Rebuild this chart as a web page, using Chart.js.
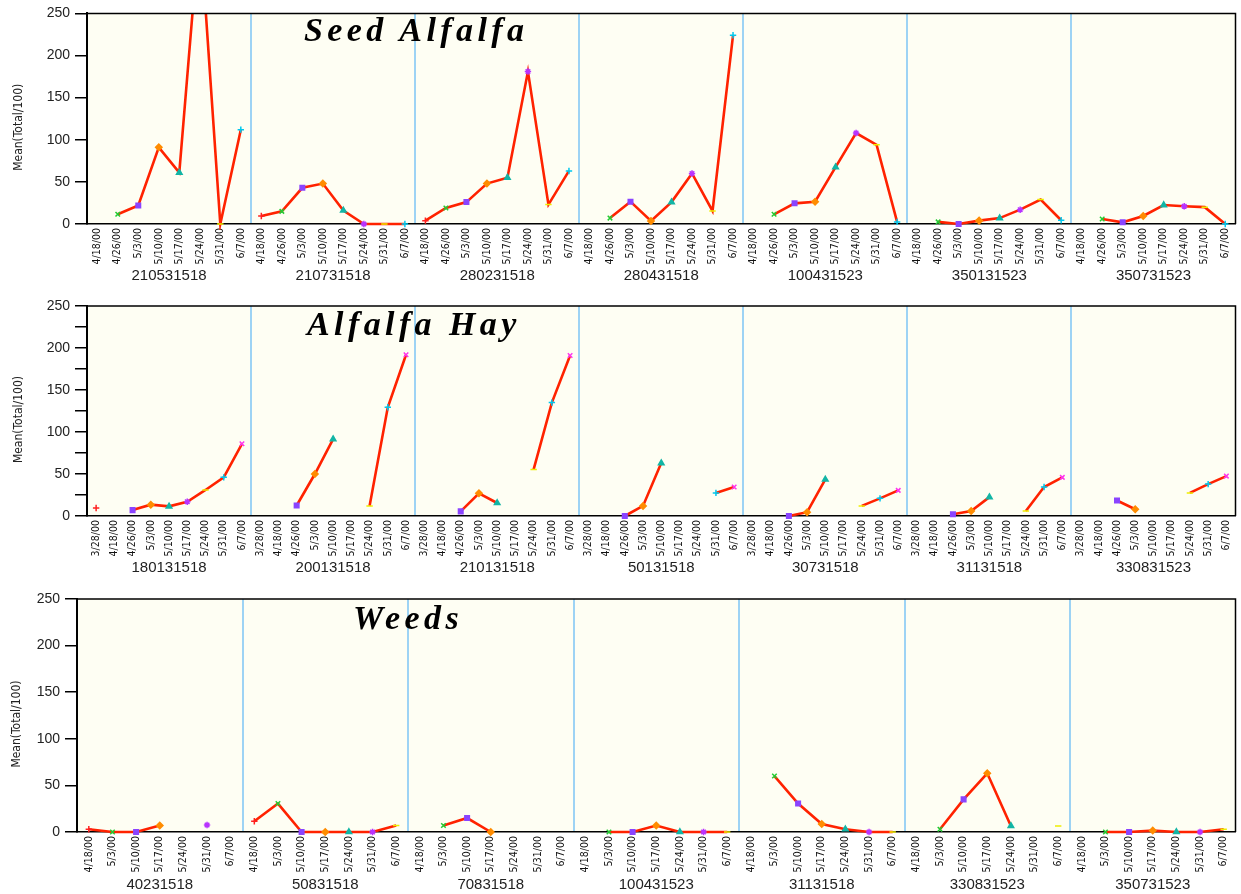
<!DOCTYPE html>
<html>
<head>
<meta charset="utf-8">
<script src="https://cdn.jsdelivr.net/npm/chart.js@4.4.1/dist/chart.umd.min.js"></script>
<style>
body { margin: 0; background: #fff; }
#wrap { position: relative; width: 1241px; height: 894px; overflow: hidden; }
#wrap canvas { position: absolute; left: 0; }
.ttl { position: absolute; font-family: "Liberation Serif", "DejaVu Serif", serif; font-weight: bold; font-style: italic;
       font-size: 34px; line-height: 34px; letter-spacing: 4.4px; color: #000; white-space: nowrap; }
</style>
</head>
<body>
<div id="wrap">
  <canvas id="c1" width="1241" height="290" style="top:0"></canvas>
  <canvas id="c2" width="1241" height="295" style="top:290px"></canvas>
  <canvas id="c3" width="1241" height="309" style="top:585px"></canvas>
  <div class="ttl" style="left:304px;top:13px">Seed Alfalfa</div>
  <div class="ttl" style="left:307px;top:307px">Alfalfa Hay</div>
  <div class="ttl" style="left:353px;top:601px">Weeds</div>
</div>
<script>
// ---- data ----
const seedDates = ['4/18/00', '4/26/00', '5/3/00', '5/10/00', '5/17/00', '5/24/00', '5/31/00', '6/7/00'];
const seedFields = ['210531518', '210731518', '280231518', '280431518', '100431523', '350131523', '350731523'];
const seedMeans = [
  [null, 11.5, 22, 91, 61, 355, 0, 112],
  [9.5, 15, 43, 48, 16, 0, 0, 0],
  [4, 19, 26, 48, 55, 181, 23, 63],
  [null, 7, 26.5, 3.5, 26, 60, 15.5, 224],
  [null, 11.5, 24.5, 26.5, 67.5, 108, 94, 2.5],
  [null, 2.5, 0, 4, 7, 17, 29, 4.5],
  [null, 6, 2, 9.5, 22.5, 21, 20, 0]
];

const hayDates = ['3/28/00', '4/18/00', '4/26/00', '5/3/00', '5/10/00', '5/17/00', '5/24/00', '5/31/00', '6/7/00'];
const hayFields = ['180131518', '200131518', '210131518', '50131518', '30731518', '31131518', '330831523'];
const hayMeans = [
  [9.5, null, 7, 13.5, 11.5, 17, 31, 46, 86],
  [null, null, 12.5, 50, 91.5, null, 12, 129.5, 192],
  [null, null, 5.5, 27, 15.5, null, 55.5, 135, 191],
  [null, null, 0, 12, 63, null, null, 27.5, 34.5],
  [null, null, 0, 4.5, 43.5, null, 12, 21, 30.5],
  [null, null, 2, 6, 22.5, null, 6, 34.5, 46],
  [null, null, 18.5, 8, null, null, 27.5, 38, 47.5]
];

const weedDates = ['4/18/00', '5/3/00', '5/10/00', '5/17/00', '5/24/00', '5/31/00', '6/7/00'];
const weedFields = ['40231518', '50831518', '70831518', '100431523', '31131518', '330831523', '350731523'];
const weedMeans = [
  [3, 0, 0, 7, null, 7.5, null],
  [11.5, 30.5, 0, 0, 0, 0, 7],
  [null, 7, 15, 0, null, null, null],
  [null, 0, 0, 7, 0, 0, 0],
  [null, 60, 30.5, 8.5, 3, 0, 0],
  [null, 3, 35, 63, 6.5, null, 6.5],
  [null, 0, 0, 1.5, 0, 0, 3]
];

const yTicks = [0, 50, 100, 150, 200, 250];

// ---- style ----
const markerColors = ['#ff2020', '#22cc33', '#8a44ff', '#ff8c00', '#12b5a5', '#b833ff', '#eeee00', '#00c8ee', '#ff33ee'];
const markerStyles = ['cross', 'crossRot', 'rect', 'rectRot', 'triangle', 'star', 'line', 'cross', 'crossRot'];
const NARROW = '"DejaVu Sans Condensed", "Liberation Sans", sans-serif';
const SANS = '"Liberation Sans", Arial, sans-serif';

const plotFrame = {
  id: 'plotFrame',
  beforeDraw(chart) {
    const a = chart.chartArea, ctx = chart.ctx;
    ctx.save();
    ctx.fillStyle = '#fefef3';
    ctx.fillRect(a.left, a.top, a.right - a.left, a.bottom - a.top);
    ctx.restore();
  },
  afterDraw(chart) {
    const a = chart.chartArea, ctx = chart.ctx;
    ctx.save();
    ctx.strokeStyle = '#000';
    ctx.lineWidth = 1.5;
    ctx.beginPath();
    ctx.moveTo(a.left, a.top);
    ctx.lineTo(a.right, a.top);
    ctx.lineTo(a.right, a.bottom);
    ctx.stroke();
    ctx.restore();
  }
};

function makePanel(id, dates, fields, means, o) {
  const n = dates.length;
  const labels = [];
  fields.forEach(() => dates.forEach(d => labels.push(d)));

  // one line per field, so the line breaks between fields
  const datasets = means.map((row, g) => {
    const data = labels.map(() => null);
    row.forEach((v, i) => { data[g * n + i] = v; });
    return {
      data: data,
      borderColor: '#ff2200',
      borderWidth: 2.6,
      spanGaps: false,
      tension: 0,
      clip: { left: 6, right: 6, top: 0, bottom: 6 },
      pointStyle: c => markerStyles[c.dataIndex % n],
      pointBorderColor: c => markerColors[c.dataIndex % n],
      pointBackgroundColor: c => markerColors[c.dataIndex % n],
      pointRadius: 3.2,
      pointBorderWidth: 1.5
    };
  });

  return new Chart(document.getElementById(id), {
    type: 'line',
    data: { labels: labels, datasets: datasets },
    options: {
      responsive: false,
      animation: false,
      events: [],
      layout: { padding: { top: o.top, right: 3, bottom: o.bottom, left: 0 } },
      plugins: { legend: { display: false }, tooltip: { enabled: false } },
      scales: {
        x: {
          type: 'category',
          position: 'bottom',
          offset: true,
          grid: { display: false },
          border: { display: true, color: '#000', width: 1.5 },
          ticks: { autoSkip: false, minRotation: 90, maxRotation: 90, padding: -4, color: '#111',
                   font: { family: NARROW, size: 10.5 } },
          afterFit: s => { s.height = o.dateH; }
        },
        g: {
          type: 'category',
          position: 'bottom',
          labels: fields,
          offset: true,
          grid: {
            offset: true, drawTicks: false, drawOnChartArea: true, lineWidth: 2,
            color: c => (c.index > 0 && c.index < fields.length) ? '#9dd3f4' : 'rgba(0,0,0,0)'
          },
          border: { display: false },
          ticks: { padding: 0, color: '#222', font: { family: SANS, size: 15 } },
          afterFit: s => { s.height = o.groupH; }
        },
        y: {
          min: 0, max: 250,
          ticks: {
            stepSize: o.step, padding: 5, color: '#222', font: { family: SANS, size: 14 },
            callback: v => yTicks.includes(v) ? v : ''
          },
          grid: { drawOnChartArea: false, drawTicks: true, tickLength: 12, color: '#000', lineWidth: 1.5 },
          border: { display: true, color: '#000', width: 2 },
          title: { display: true, text: 'Mean(Total/100)     ', color: '#222',
                   font: { family: NARROW, size: 12 }, padding: { top: o.titlePad, bottom: 0 } },
          afterFit: s => { s.width = o.left; }
        }
      }
    },
    plugins: [plotFrame]
  });
}

makePanel('c1', seedDates, seedFields, seedMeans, { top: 13, bottom: 3, dateH: 43, groupH: 20, left: 87, step: 50, titlePad: 12 });
makePanel('c2', hayDates, hayFields, hayMeans, { top: 16, bottom: 6, dateH: 43, groupH: 20, left: 87, step: 25, titlePad: 12 });
makePanel('c3', weedDates, weedFields, weedMeans, { top: 14, bottom: 0, dateH: 44, groupH: 18, left: 77, step: 50, titlePad: 10 });
</script>
</body>
</html>
